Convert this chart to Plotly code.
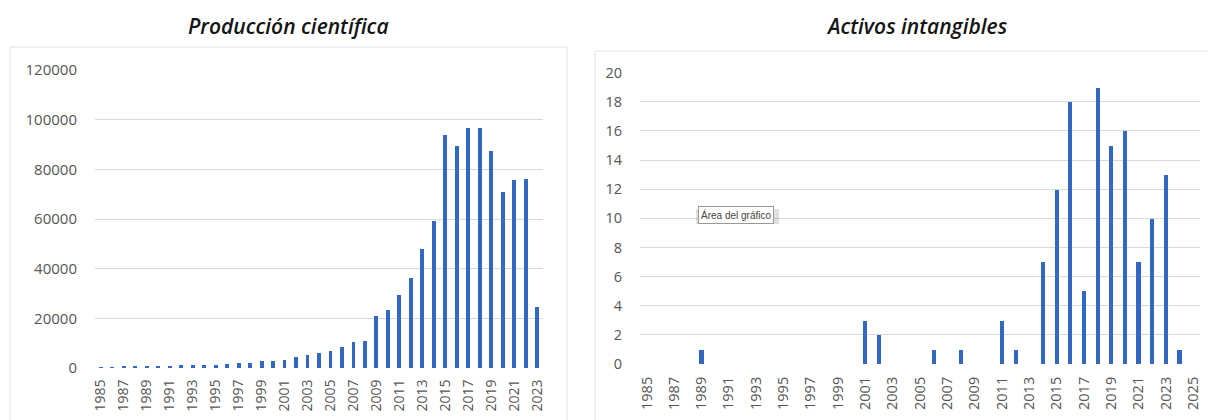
import plotly.graph_objects as go

# Producción científica: publications per year
prod_years = list(range(1985, 2024))
prod_values = [400, 300, 500, 600, 800, 1000, 1000, 1100, 1100, 1200,
               1400, 1700, 2000, 2200, 2900, 2700, 3300, 4400, 5100, 6000,
               6700, 8500, 10500, 10800, 20800, 23200, 29200, 36400, 48000, 59000,
               93800, 89300, 96600, 96600, 87300, 70700, 75700, 76000, 24400]

# Activos intangibles: registered assets per year
act_years = list(range(1985, 2026))
act_counts = {1989: 1, 2001: 3, 2002: 2, 2006: 1, 2008: 1, 2011: 3, 2012: 1,
              2014: 7, 2015: 12, 2016: 18, 2017: 5, 2018: 19, 2019: 15,
              2020: 16, 2021: 7, 2022: 10, 2023: 13, 2024: 1}
act_values = [act_counts.get(y, 0) for y in act_years]

titles = ["Producción científica", "Activos intangibles"]

BAR = "#3268c2"
GRID = "#d9d9d9"
TICK = "#555555"
FONT = "Open Sans"
W, H = 1208, 420


def px_x(v):
    return v / W


def px_y(v):
    return (H - v) / H


fig = go.Figure()
fig.add_trace(go.Bar(x=prod_years, y=prod_values, marker_color=BAR,
                     marker_line_width=0, width=0.34,
                     xaxis="x", yaxis="y", showlegend=False))
fig.add_trace(go.Bar(x=act_years, y=act_values, marker_color=BAR,
                     marker_line_width=0, width=0.3,
                     xaxis="x2", yaxis="y2", showlegend=False))

axis_common = dict(showline=False, zeroline=False, automargin=False)

fig.update_layout(
    width=W, height=H,
    margin=dict(l=0, r=0, t=0, b=0),
    paper_bgcolor="white", plot_bgcolor="white",
    bargap=0,
    xaxis=dict(domain=[px_x(95), px_x(543)], range=[1984.5, 2023.5],
               tickmode="linear", tick0=1985, dtick=2, tickangle=-90,
               showgrid=False, ticks="outside", ticklen=5,
               tickcolor="rgba(0,0,0,0)", anchor="y",
               tickfont=dict(family=FONT, color=TICK, size=14), **axis_common),
    yaxis=dict(domain=[px_y(368), px_y(70)], range=[0, 120000],
               tickmode="linear", tick0=0, dtick=20000, tickformat="d",
               showgrid=True, gridcolor=GRID, gridwidth=1,
               ticks="outside", ticklen=14, tickcolor="rgba(0,0,0,0)",
               anchor="x",
               tickfont=dict(family=FONT, color=TICK, size=15), **axis_common),
    xaxis2=dict(domain=[px_x(640), px_x(1200)], range=[1984.5, 2025.5],
                tickmode="linear", tick0=1985, dtick=2, tickangle=-90,
                showgrid=False, ticks="outside", ticklen=6,
                tickcolor="rgba(0,0,0,0)", anchor="y2",
                tickfont=dict(family=FONT, color=TICK, size=14.5), **axis_common),
    yaxis2=dict(domain=[px_y(364), px_y(72.7)], range=[0, 20],
                tickmode="linear", tick0=0, dtick=2,
                showgrid=True, gridcolor=GRID, gridwidth=1,
                ticks="outside", ticklen=14, tickcolor="rgba(0,0,0,0)",
                anchor="x2",
                tickfont=dict(family=FONT, color=TICK, size=14.5), **axis_common),
)

# Chart frames
fig.add_shape(type="rect", xref="paper", yref="paper",
              x0=px_x(10), x1=px_x(567), y0=px_y(430), y1=px_y(47),
              line=dict(color="#e3e3e3", width=1), fillcolor="rgba(0,0,0,0)")
fig.add_shape(type="rect", xref="paper", yref="paper",
              x0=px_x(595), x1=px_x(1212), y0=px_y(430), y1=px_y(51),
              line=dict(color="#e3e3e3", width=1), fillcolor="rgba(0,0,0,0)")

# Titles
for cx, text in zip([288, 917], titles):
    fig.add_annotation(xref="paper", yref="paper", x=px_x(cx), y=px_y(26),
                       text=text, showarrow=False,
                       xanchor="center", yanchor="middle",
                       font=dict(family=FONT, size=21, color="#141414",
                                 style="italic", weight=600))

# Chart-area tooltip (soft shadow behind a bordered label)
fig.add_shape(type="rect", xref="paper", yref="paper",
              x0=px_x(696), x1=px_x(779), y0=px_y(224), y1=px_y(209),
              line=dict(width=0), fillcolor="rgba(0,0,0,0.12)")
fig.add_annotation(xref="paper", yref="paper", x=px_x(735.5), y=px_y(215),
                   text="Área del gráfico", showarrow=False,
                   xanchor="center", yanchor="middle",
                   font=dict(family="Liberation Sans", size=10, color="#444444"),
                   bgcolor="white", bordercolor="#9a9a9a", borderwidth=1,
                   borderpad=2)

fig.write_html("out.html")
